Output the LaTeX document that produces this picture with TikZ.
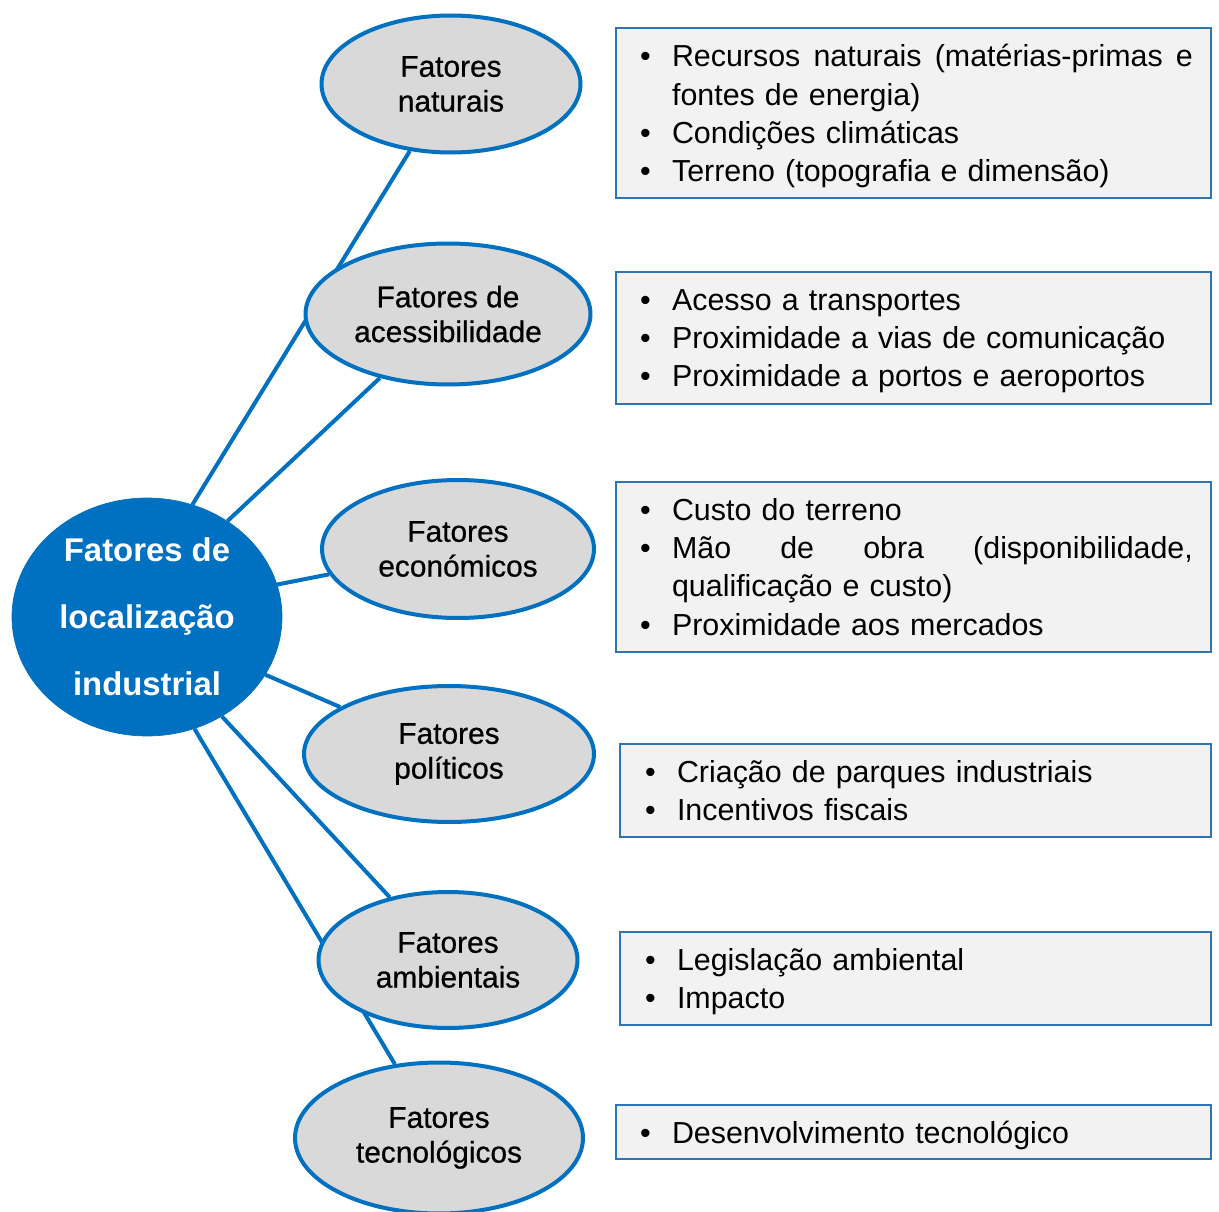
\documentclass[tikz,border=0pt]{standalone}
\usepackage{amsmath}
\usepackage{fontspec}
\setmainfont{Liberation Sans}
\newfontfamily\medio[FakeBold=0.7]{Liberation Sans}
\usetikzlibrary{shapes.geometric, backgrounds}
\definecolor{azul}{HTML}{0070C0}
\definecolor{azulcaixa}{HTML}{2E75B6}
\definecolor{cinza}{HTML}{D9D9D9}
\definecolor{cinzaclaro}{HTML}{F2F2F2}
\newcommand{\bul}{\makebox[0.64cm][l]{•}}
\newcommand{\recuo}{\hspace*{0.64cm}}

\begin{document}
\begin{tikzpicture}[x=0.02cm, y=-0.02cm,
    hub/.style={ellipse, fill=azul, draw=azul, text=white, inner sep=0pt, align=center,
        minimum width=5.4cm, minimum height=4.76cm,
        font=\fontsize{18.7pt}{38pt}\selectfont\bfseries},
    fator/.style={ellipse, fill=cinza, draw=azul, line width=0.08cm, inner sep=0pt,
        align=center, font=\medio\fontsize{17pt}{19.8pt}\selectfont},
    lista/.style={rectangle, fill=cinzaclaro, draw=azulcaixa, line width=0.04cm,
        align=left, inner xsep=0.48cm, inner ysep=0pt, text width=10.94cm,
        minimum width=11.9cm, font=\fontsize{17.3pt}{21.7pt}\selectfont},
    ligacao/.style={draw=azul, line width=0.08cm}]
    \useasboundingbox (0,0) rectangle (1219,1212);
    % nó central
    \node[hub] (hub) at (147,617) {Fatores de\\localização\\industrial};
    % fatores
    \node[fator, minimum width=5.18cm, minimum height=2.74cm] (e1) at (451,84) {Fatores\\naturais};
    \node[fator, minimum width=5.7cm, minimum height=2.82cm] (e2) at (448,314) {Fatores de\\acessibilidade};
    \node[fator, minimum width=5.44cm, minimum height=2.76cm] (e3) at (458,549) {Fatores\\económicos};
    \node[fator, minimum width=5.8cm, minimum height=2.72cm] (e4) at (449,754) {Fatores\\políticos};
    \node[fator, minimum width=5.18cm, minimum height=2.72cm] (e5) at (448,960) {Fatores\\ambientais};
    \node[fator, minimum width=5.76cm, minimum height=3.02cm] (e6) at (439,1138) {Fatores\\tecnológicos};
    % ligações
    \begin{scope}[on background layer]
        \foreach \a/\n in {68/e1, 50/e2, 14/e3, -26/e4, -53/e5, -67/e6}
            \draw[ligacao] (hub.\a) -- (\n);
    \end{scope}
    % listas
    \node[lista, minimum height=3.4cm] (l1) at (913.5,113) {\bul \hbox to 10.42cm{Recursos\hfill naturais\hfill (matérias-primas\hfill e}\\
        \recuo fontes de energia)\\ \bul Condições climáticas\\ \bul \smash[b]{Terreno (topografia e dimensão)}};
    \node[lista, minimum height=2.64cm] (l2) at (913.5,338) {\bul Acesso a transportes\\
        \bul Proximidade a vias de comunicação\\ \bul \smash[b]{Proximidade a portos e aeroportos}};
    \node[lista, minimum height=3.4cm] (l3) at (913.5,567) {\bul Custo do terreno\\
        \bul \hbox to 10.42cm{Mão\hfill de\hfill obra\hfill (disponibilidade,}\\
        \recuo qualificação e custo)\\ \bul Proximidade aos mercados};
    \node[lista, minimum width=11.82cm, text width=10.82cm, inner xsep=0.5cm,
        minimum height=1.86cm] (l4) at (915.5,790.5) {\bul Criação de parques industriais\\
        \bul Incentivos fiscais};
    \node[lista, minimum width=11.82cm, text width=10.82cm, inner xsep=0.5cm,
        minimum height=1.86cm] (l5) at (915.5,978.5) {\bul Legislação ambiental\\ \bul \smash[b]{Impacto}};
    \node[lista, minimum height=1.08cm] (l6) at (913.5,1132) {\bul \smash[b]{Desenvolvimento tecnológico}};
\end{tikzpicture}
\end{document}
